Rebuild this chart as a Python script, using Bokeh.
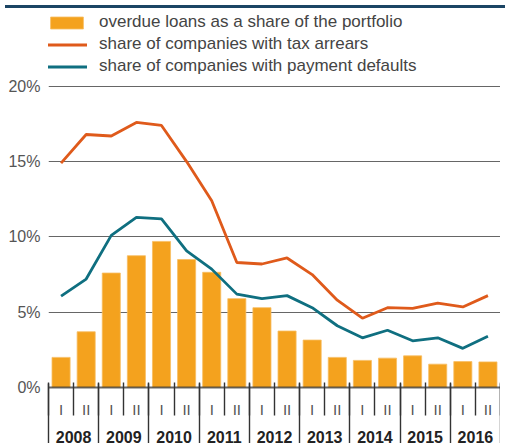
import numpy as np
from bokeh.plotting import figure
from bokeh.layouts import column
from bokeh.models import (Range1d, FixedTicker, LinearAxis, Legend, LegendItem, Div)
from bokeh.embed import file_html
from bokeh.resources import INLINE

# ---- data ----
years = ["2008", "2009", "2010", "2011", "2012", "2013", "2014", "2015", "2016"]
halves = ["I", "II"]
overdue_loans = [2.0, 3.7, 7.6, 8.75, 9.7, 8.5, 7.65, 5.9, 5.3,
                 3.75, 3.15, 2.0, 1.8, 1.95, 2.1, 1.55, 1.72, 1.7]
tax_arrears = [14.9, 16.8, 16.7, 17.6, 17.4, 15.0, 12.4, 8.3, 8.2,
               8.6, 7.5, 5.8, 4.6, 5.3, 5.25, 5.6, 5.35, 6.1]
payment_defaults = [6.07, 7.2, 10.1, 11.3, 11.2, 9.07, 7.86, 6.2, 5.9,
                    6.1, 5.3, 4.1, 3.3, 3.8, 3.1, 3.3, 2.6, 3.4]
y_ticks = [0, 5, 10, 15, 20]

n = len(overdue_loans)
x = np.arange(n) + 0.5
half_labels = {float(xi): halves[i % 2] for i, xi in enumerate(x)}
year_centers = [2.0 * i + 1.0 for i in range(len(years))]
year_labels = {yc: yr for yc, yr in zip(year_centers, years)}

ORANGE = "#F4A21E"
RED = "#DF5A1B"
TEAL = "#0F6F80"

# frame spans legend area too: 302 px for 0..20, 375 px total height
y_top = 20 * 375 / 302

strip = Div(text="", width=500, height=3,
            styles={"background-color": "#1B4564"})

p = figure(width=500, height=432, output_backend="svg", toolbar_location=None,
           x_range=Range1d(0, n), y_range=Range1d(0, y_top),
           min_border_left=48, min_border_right=0, min_border_top=0,
           min_border_bottom=57)
p.outline_line_color = None
p.background_fill_color = "white"
p.xgrid.grid_line_color = None
p.ygrid.ticker = FixedTicker(ticks=y_ticks[1:])
p.ygrid.grid_line_color = "#666666"
p.ygrid.grid_line_width = 1.2

bars = p.vbar(x=x, top=overdue_loans, width=0.72, bottom=0,
              fill_color=ORANGE, line_color="#F7BE62", line_width=0.8)
l1 = p.line(x, tax_arrears, line_color=RED, line_width=2.8)
l2 = p.line(x, payment_defaults, line_color=TEAL, line_width=2.8)

# y axis
ya = p.yaxis[0]
ya.ticker = FixedTicker(ticks=y_ticks)
ya.major_label_overrides = {t: f"{t}%" for t in y_ticks}
ya.axis_line_color = None
ya.major_tick_line_color = None
ya.major_tick_in = 0
ya.major_tick_out = 0
ya.minor_tick_line_color = None
ya.minor_tick_in = 0
ya.minor_tick_out = 0
ya.major_label_standoff = 8
ya.major_label_text_font = "Liberation Sans"
ya.major_label_text_font_size = "16px"
ya.major_label_text_color = "#555555"

# x axis 1: half-year labels
xa = p.xaxis[0]
xa.ticker = FixedTicker(ticks=list(x), minor_ticks=list(range(n + 1)))
xa.major_label_overrides = half_labels
xa.major_tick_in = 0
xa.major_tick_out = 0
xa.minor_tick_in = 5
xa.minor_tick_out = 28
xa.minor_tick_line_color = "#333333"
xa.minor_tick_line_width = 1.4
xa.axis_line_color = "#333333"
xa.axis_line_alpha = 0.75
xa.axis_line_width = 2
xa.major_label_standoff = -15
xa.major_label_text_font = "Liberation Sans"
xa.major_label_text_font_size = "15px"
xa.major_label_text_color = "#555555"

# x axis 2: years
xa2 = LinearAxis(ticker=FixedTicker(ticks=year_centers,
                                    minor_ticks=[2 * i for i in range(len(years) + 1)]))
xa2.major_label_overrides = year_labels
xa2.major_tick_in = 0
xa2.major_tick_out = 0
xa2.minor_tick_in = 37
xa2.minor_tick_out = 30
xa2.minor_tick_line_color = "#333333"
xa2.minor_tick_line_width = 1.4
xa2.axis_line_color = None
xa2.major_label_standoff = -20
xa2.major_label_text_font = "Liberation Sans"
xa2.major_label_text_font_style = "bold"
xa2.major_label_text_font_size = "16px"
xa2.major_label_text_color = "#222222"
p.add_layout(xa2, "below")

# legend
legend = Legend(items=[
    LegendItem(label="overdue loans as a share of the portfolio", renderers=[bars]),
    LegendItem(label="share of companies with tax arrears", renderers=[l1]),
    LegendItem(label="share of companies with payment defaults", renderers=[l2]),
], location=(-2, 311))
legend.glyph_width = 41
legend.glyph_height = 15
legend.label_height = 15
legend.spacing = 2
legend.label_standoff = 12
legend.padding = 0
legend.margin = 0
legend.border_line_color = None
legend.background_fill_alpha = 0
legend.label_text_font = "Liberation Sans"
legend.label_text_font_size = "17px"
legend.label_text_color = "#444444"
p.add_layout(legend, "center")

layout = column(strip, p, spacing=0)
open("out.html", "w").write(file_html(layout, INLINE))
